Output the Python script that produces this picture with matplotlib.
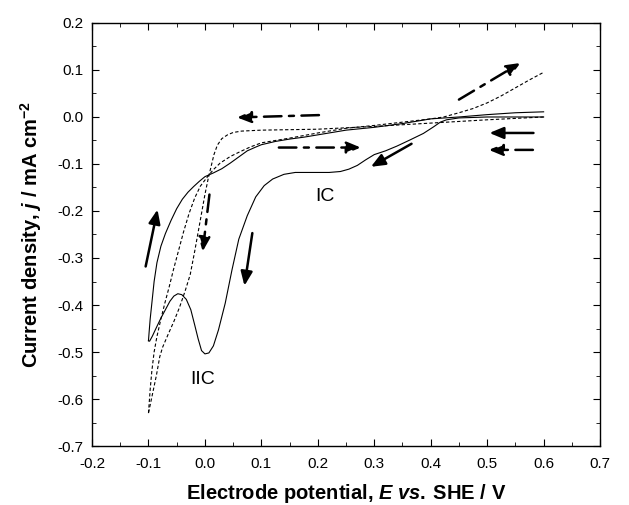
import matplotlib
matplotlib.use("Agg")
import matplotlib.pyplot as plt
from matplotlib.ticker import MultipleLocator

plt.rcParams["font.family"] = "Liberation Sans"
plt.rcParams["mathtext.fontset"] = "custom"
plt.rcParams["mathtext.rm"] = "Liberation Sans:bold"
plt.rcParams["mathtext.it"] = "Liberation Sans:italic:bold"
plt.rcParams["mathtext.bf"] = "Liberation Sans:bold"

# solid curve, cathodic sweep (0.6 V -> -0.1 V)
e_cat1 = [0.6, 0.55, 0.5, 0.45, 0.428, 0.417, 0.405, 0.387, 0.363, 0.34, 0.32, 0.3,
          0.285, 0.27, 0.255, 0.24, 0.22, 0.19, 0.16, 0.14, 0.12, 0.105, 0.09, 0.075,
          0.06, 0.048, 0.036, 0.024, 0.015, 0.007, 0.0, -0.006, -0.012, -0.018,
          -0.025, -0.033, -0.041, -0.048, -0.055, -0.062, -0.07, -0.078, -0.086,
          -0.093, -0.098, -0.1]
j_cat1 = [0.0, 0.0, 0.0, -0.002, -0.006, -0.011, -0.021, -0.035, -0.049, -0.062,
          -0.072, -0.08, -0.091, -0.103, -0.111, -0.116, -0.118, -0.118, -0.118,
          -0.122, -0.132, -0.146, -0.17, -0.21, -0.26, -0.325, -0.396, -0.453,
          -0.487, -0.502, -0.504, -0.497, -0.472, -0.443, -0.41, -0.388, -0.378,
          -0.376, -0.381, -0.392, -0.41, -0.428, -0.448, -0.466, -0.477, -0.476]
# solid curve, anodic return (-0.1 V -> 0.6 V)
e_an1 = [-0.1, -0.099, -0.097, -0.094, -0.09, -0.085, -0.078, -0.07, -0.06, -0.05,
         -0.04, -0.03, -0.02, -0.01, 0.0, 0.015, 0.03, 0.045, 0.06, 0.075, 0.09,
         0.1, 0.125, 0.15, 0.175, 0.2, 0.25, 0.3, 0.35, 0.4, 0.45, 0.5, 0.55, 0.6]
j_an1 = [-0.476, -0.46, -0.43, -0.396, -0.35, -0.31, -0.275, -0.248, -0.22, -0.195,
         -0.175, -0.16, -0.148, -0.137, -0.127, -0.119, -0.11, -0.098, -0.085,
         -0.072, -0.064, -0.059, -0.052, -0.047, -0.043, -0.038, -0.028, -0.022,
         -0.014, -0.004, 0.0, 0.005, 0.009, 0.011]

# dashed curve, cathodic sweep
e_cat2 = [0.6, 0.5, 0.4, 0.3, 0.2, 0.1, 0.065, 0.05, 0.04, 0.03, 0.022, 0.016,
          0.011, 0.006, 0.0, -0.006, -0.012, -0.018, -0.026, -0.035, -0.045,
          -0.055, -0.065, -0.075, -0.08, -0.086, -0.093, -0.1]
j_cat2 = [0.0, -0.006, -0.013, -0.02, -0.026, -0.028, -0.03, -0.033, -0.038, -0.046,
          -0.06, -0.08, -0.105, -0.13, -0.165, -0.205, -0.245, -0.285, -0.335,
          -0.37, -0.405, -0.435, -0.462, -0.49, -0.51, -0.55, -0.59, -0.63]
# dashed curve, anodic return
e_an2 = [-0.1, -0.097, -0.094, -0.09, -0.085, -0.078, -0.071, -0.063, -0.056, -0.048,
         -0.038, -0.028, -0.018, -0.008, 0.004, 0.015, 0.027, 0.045, 0.062, 0.08,
         0.1, 0.15, 0.2, 0.25, 0.3, 0.35, 0.4, 0.423, 0.45, 0.475, 0.5, 0.525,
         0.55, 0.575, 0.6]
j_an2 = [-0.63, -0.58, -0.54, -0.5, -0.467, -0.43, -0.396, -0.36, -0.326, -0.29,
         -0.245, -0.205, -0.172, -0.147, -0.128, -0.112, -0.098, -0.084, -0.074,
         -0.064, -0.055, -0.045, -0.034, -0.024, -0.018, -0.011, -0.004, 0.0,
         0.009, 0.018, 0.03, 0.045, 0.062, 0.079, 0.095]

# scan direction arrows: (tail, head, style)
arrows = [
    ((-0.105, -0.318), (-0.084, -0.197), "solid"),
    ((0.008, -0.165), (-0.004, -0.286), "dashdot"),
    ((0.084, -0.247), (0.07, -0.359), "solid"),
    ((0.202, 0.004), (0.057, -0.001), "dashdot"),
    ((0.131, -0.065), (0.276, -0.065), "dashdot"),
    ((0.366, -0.057), (0.294, -0.106), "solid"),
    ((0.45, 0.037), (0.559, 0.115), "dashdot"),
    ((0.582, -0.034), (0.504, -0.034), "solid"),
    ((0.581, -0.07), (0.503, -0.07), "dashdot"),
]

fig = plt.figure(figsize=(6.29, 5.05), dpi=100)
ax = fig.add_axes([0.1463, 0.1168, 0.8077, 0.8377])

ax.plot(e_cat1, j_cat1, color="black", lw=0.8)
ax.plot(e_an1, j_an1, color="black", lw=0.8)
ax.plot(e_cat2, j_cat2, color="black", lw=0.8, dashes=(3, 2))
ax.plot(e_an2, j_an2, color="black", lw=0.8, dashes=(3, 2))

for tail, head, style in arrows:
    ls = "-" if style == "solid" else (0, (7, 3, 2, 3))
    ax.annotate("", xy=head, xytext=tail,
                arrowprops=dict(arrowstyle="-|>,head_length=0.6,head_width=0.25",
                                color="black", lw=1.8, linestyle=ls,
                                shrinkA=0, shrinkB=0, mutation_scale=14))

ax.text(0.213, -0.17, "IC", fontsize=14, ha="center", va="center")
ax.text(-0.004, -0.559, "IIC", fontsize=14, ha="center", va="center")

ax.set_xlim(-0.2, 0.7)
ax.set_ylim(-0.7, 0.2)
ax.xaxis.set_major_locator(MultipleLocator(0.1))
ax.xaxis.set_minor_locator(MultipleLocator(0.05))
ax.yaxis.set_major_locator(MultipleLocator(0.1))
ax.yaxis.set_minor_locator(MultipleLocator(0.05))
ax.xaxis.set_major_formatter(plt.FormatStrFormatter("%.1f"))
ax.yaxis.set_major_formatter(plt.FormatStrFormatter("%.1f"))
ax.tick_params(which="both", direction="in", top=True, right=True, labelsize=11)
ax.tick_params(axis="x", which="major", pad=8)
ax.tick_params(axis="y", which="major", pad=6)
ax.tick_params(which="major", length=5)
ax.tick_params(which="minor", length=3)
for s in ax.spines.values():
    s.set_linewidth(1.0)

ax.set_xlabel(r"Electrode potential, $E$ $vs.$" + "\u2009SHE / V",
              fontsize=14.5, fontweight="bold", labelpad=8)
ax.set_ylabel(r"Current density, $j$ / mA cm$^{-2}$",
              fontsize=14.5, fontweight="bold", labelpad=10)

fig.savefig("out.png", dpi=100)
